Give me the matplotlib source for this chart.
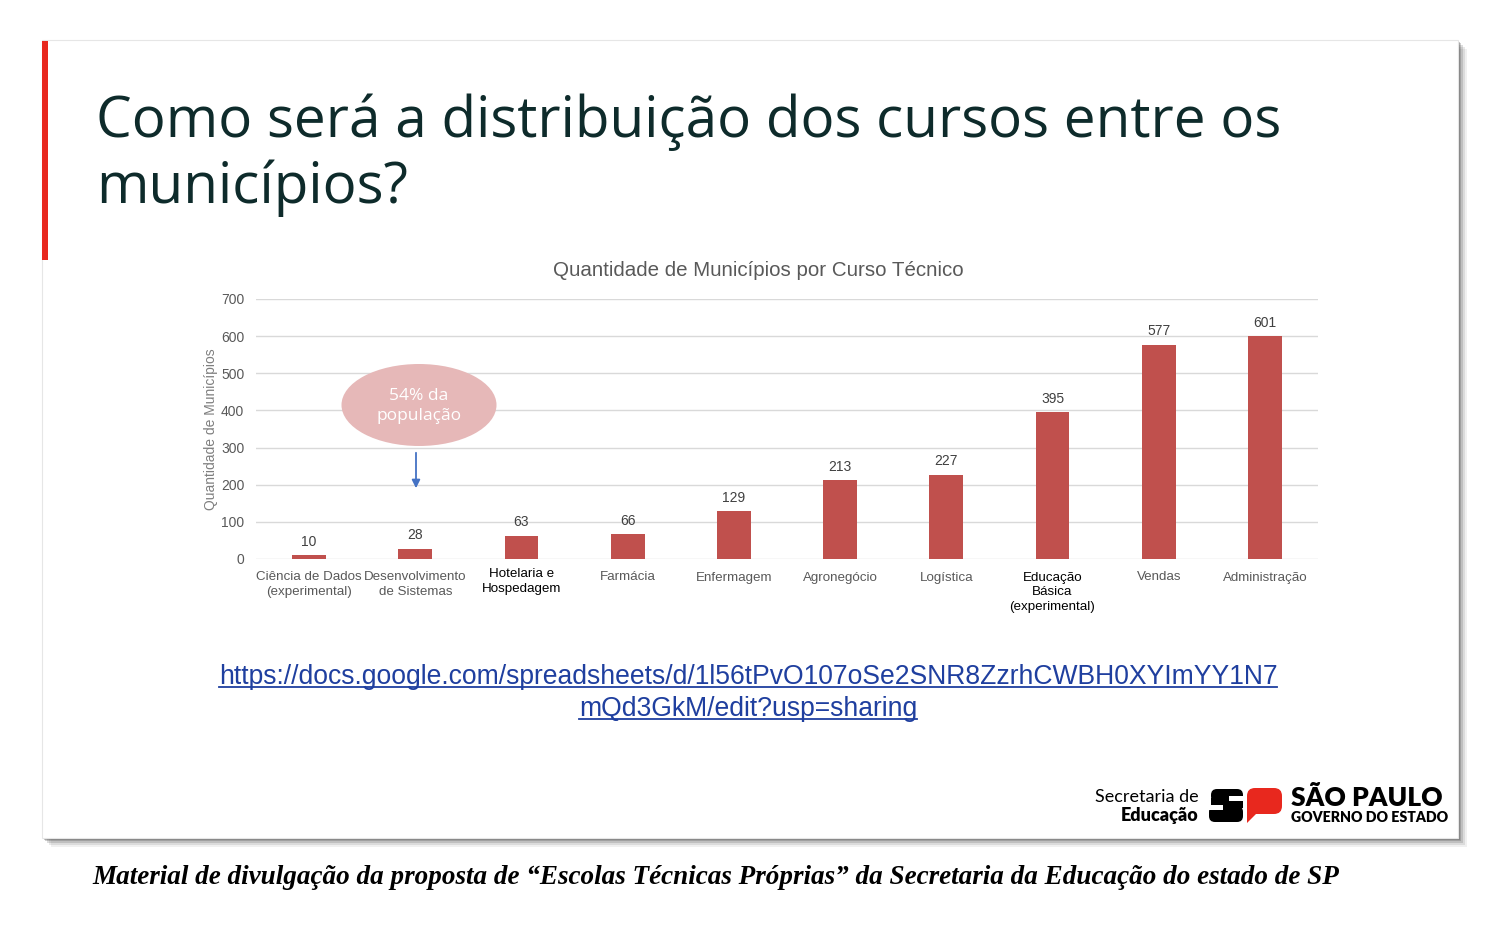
import matplotlib
matplotlib.use("Agg")
import matplotlib.pyplot as plt
from matplotlib.patches import Rectangle, Ellipse, FancyBboxPatch, Polygon

# ---- data ----
categories = ["Ciência de Dados\n(experimental)", "Desenvolvimento\nde Sistemas",
              "Hotelaria e\nHospedagem", "Farmácia", "Enfermagem", "Agronegócio",
              "Logística", "Educação\nBásica\n(experimental)", "Vendas", "Administração"]
values = [10, 28, 63, 66, 129, 213, 227, 395, 577, 601]
yticks = [0, 100, 200, 300, 400, 500, 600, 700]
highlight = ["Hotelaria e\nHospedagem", "Educação\nBásica\n(experimental)"]

slide_title = "Como será a distribuição dos cursos entre os\nmunicípios?"
chart_title = "Quantidade de Municípios por Curso Técnico"
ylabel = "Quantidade de Municípios"
bubble_text = "54% da\npopulação"
link_lines = ["https://docs.google.com/spreadsheets/d/1l56tPvO107oSe2SNR8ZzrhCWBH0XYImYY1N7",
              "mQd3GkM/edit?usp=sharing"]
caption = "Material de divulgação da proposta de “Escolas Técnicas Próprias” da Secretaria da Educação do estado de SP"

W, H = 1500, 934
fig = plt.figure(figsize=(W / 100, H / 100), dpi=100)
fig.patch.set_facecolor("white")

# background / overlay axes in pixel coordinates
bg = fig.add_axes([0, 0, 1, 1], zorder=0)
bg.set_xlim(0, W)
bg.set_ylim(H, 0)
bg.axis("off")

# slide shadow
for off, a in [(9, 0.08), (7, 0.12), (5, 0.18), (3, 0.25), (1.5, 0.3)]:
    bg.add_patch(Rectangle((42 + off, 40 + off), 1416, 798, facecolor="#444444",
                           edgecolor="none", alpha=a))
bg.add_patch(Rectangle((42, 40), 1416, 798, facecolor="white", edgecolor="#e6e6e6", lw=0.8))
bg.add_patch(Rectangle((42, 41), 6, 219, facecolor="#e8281e", edgecolor="none"))

bg.text(96, 137, slide_title.split("\n")[0], fontsize=40.8, family="Open Sans",
        color="#0e2b2b", va="baseline", ha="left")
bg.text(96, 203, slide_title.split("\n")[1], fontsize=40.8, family="Open Sans",
        color="#0e2b2b", va="baseline", ha="left")

bg.text(758, 270, chart_title, fontsize=14.8, color="#595959", ha="center", va="center",
        family="Liberation Sans")

# link
for i, ln in enumerate(link_lines):
    y = 677 + 32 * i
    bg.text(748, y, ln, fontsize=19.1, color="#1f3f9f", ha="center", va="center",
            family="Liberation Sans")
fig.canvas.draw()
r = fig.canvas.get_renderer()
inv = bg.transData.inverted()
for t in bg.texts[-2:]:
    bb = t.get_window_extent(r)
    (x0, y0), (x1, y1) = inv.transform([(bb.x0, bb.y0), (bb.x1, bb.y1)])
    bg.plot([x0, x1], [y0 - 3, y0 - 3], color="#1f3f9f", lw=1.3)

# caption
bg.text(92, 877, caption, fontsize=19.5, family="Liberation Serif", style="italic",
        weight="bold", color="black", ha="left", va="center")

# logo
bg.text(1199, 797, "Secretaria de", fontsize=13, family="Lato", color="black",
        ha="right", va="center")
bg.text(1199, 816, "Educação", fontsize=13, family="Lato", weight="heavy", color="black",
        ha="right", va="center")
# "S" glyph block
bg.add_patch(FancyBboxPatch((1211, 789), 32, 13, boxstyle="round,pad=0,rounding_size=6",
                            facecolor="black", edgecolor="none"))
bg.add_patch(FancyBboxPatch((1209, 806), 34, 16, boxstyle="round,pad=0,rounding_size=6",
                            facecolor="black", edgecolor="none"))
bg.add_patch(Rectangle((1211, 798), 16, 10, facecolor="black", edgecolor="none"))
bg.add_patch(Rectangle((1227, 798), 16, 10, facecolor="black", edgecolor="none"))
bg.add_patch(Rectangle((1229, 796), 14, 5, facecolor="white", edgecolor="none"))
bg.add_patch(Rectangle((1209, 805), 14, 5, facecolor="white", edgecolor="none"))
# "P" glyph block
bg.add_patch(FancyBboxPatch((1247, 788), 35, 26, boxstyle="round,pad=0,rounding_size=8",
                            facecolor="#e8281e", edgecolor="none"))
bg.add_patch(Polygon([(1247, 800), (1256, 800), (1256, 814), (1247, 823)], closed=True,
                     facecolor="#e8281e", edgecolor="none"))
bg.text(1291, 798, "SÃO PAULO", fontsize=19, family="Lato", weight="heavy", color="black",
        ha="left", va="center")
bg.text(1291, 818, "GOVERNO DO ESTADO", fontsize=10.2, family="Lato", weight="heavy",
        color="black", ha="left", va="center")

# ---- chart axes ----
left, right, top, bottom = 256, 1318, 299, 559
ax = fig.add_axes([left / W, 1 - bottom / H, (right - left) / W, (bottom - top) / H], zorder=1)
ax.patch.set_alpha(0)
x = list(range(len(categories)))
ax.bar(x, values, width=0.32, color="#c0504d", zorder=3)
ax.set_xlim(-0.5, len(categories) - 0.5)
ax.set_ylim(0, 700)
ax.set_yticks(yticks)
ax.grid(axis="y", color="#d9d9d9", lw=1, zorder=0)
for s in ax.spines.values():
    s.set_visible(False)
ax.tick_params(axis="y", length=0, labelsize=10, labelcolor="#595959", pad=8.5)
ax.tick_params(axis="x", length=0, labelsize=9.6, labelcolor="#595959", pad=9)
ax.set_xticks(x)
ax.set_xticklabels(categories, family="Liberation Sans", linespacing=1.3)
for lab in ax.get_xticklabels():
    if lab.get_text() in highlight:
        lab.set_color("black")
    if lab.get_text().startswith("Hotelaria"):
        lab.set_y(0.012)
        lab.set_bbox(dict(facecolor="white", edgecolor="none", pad=4))
for lab in ax.get_yticklabels():
    lab.set_family("Liberation Sans")
ax.set_ylabel(ylabel, fontsize=10, color="#7f7f7f", family="Liberation Sans")
ax.yaxis.set_label_coords((218 - left) / (right - left), 0.5)
for xi, v in zip(x, values):
    ax.annotate(str(v), (xi, v), xytext=(0, 4.5), textcoords="offset points",
                ha="center", va="bottom", fontsize=10, color="#404040",
                family="Liberation Sans")

# bubble and arrow (pixel overlay)
ov = fig.add_axes([0, 0, 1, 1], zorder=2)
ov.set_xlim(0, W)
ov.set_ylim(H, 0)
ov.axis("off")
ov.patch.set_alpha(0)
ov.add_patch(Ellipse((419, 405), 155, 82, facecolor="#e6b8b8", edgecolor="none"))
ov.text(419, 406, bubble_text, fontsize=12.5, family="Open Sans", color="white",
        ha="center", va="center", linespacing=1.25)
ov.annotate("", xy=(416, 491), xytext=(416, 450),
            arrowprops=dict(arrowstyle="-|>", color="#4472c4", lw=1.3, mutation_scale=12))

fig.savefig("out.png", dpi=100)
